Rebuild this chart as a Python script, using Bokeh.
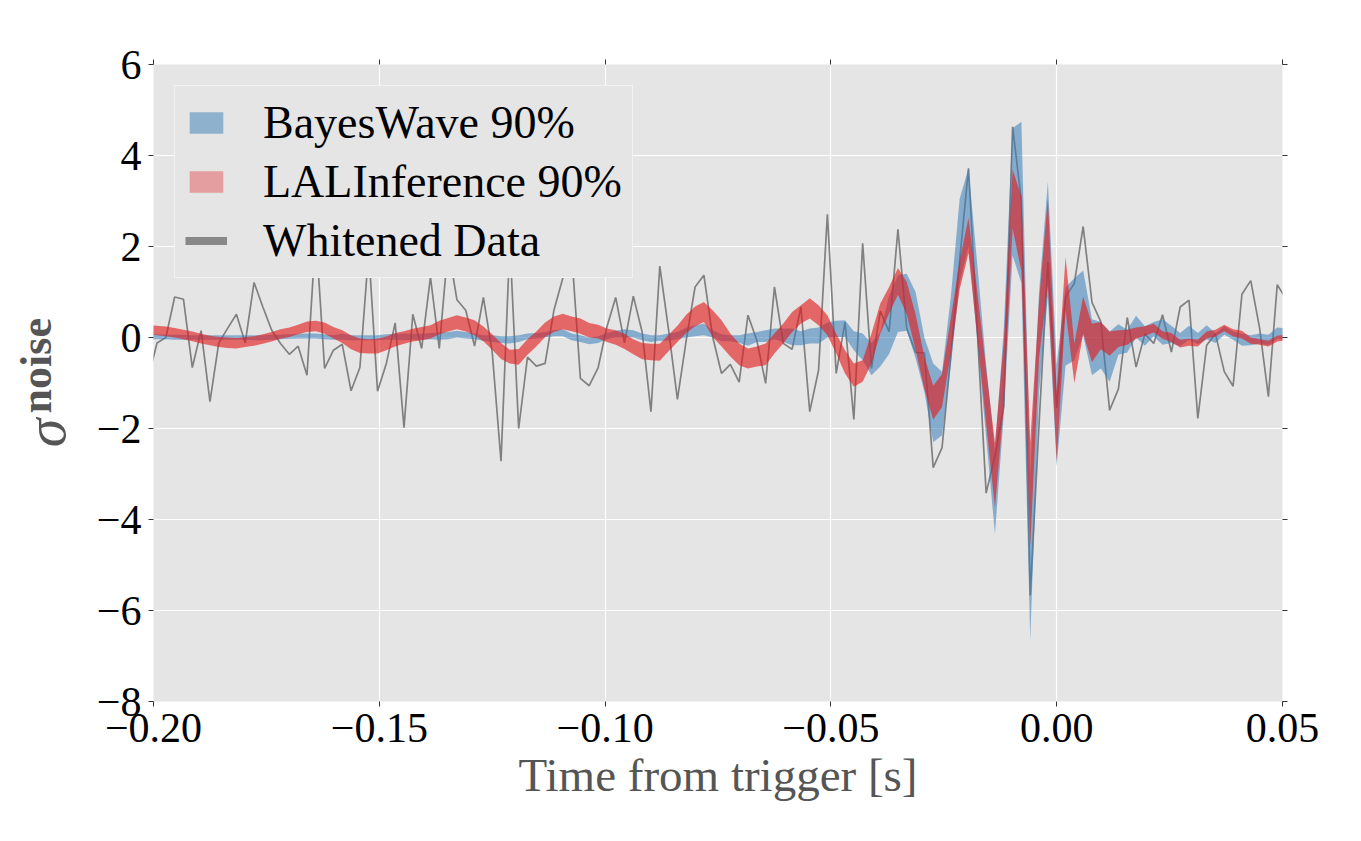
import numpy as np
from bokeh.plotting import figure
from bokeh.layouts import row
from bokeh.models import (ColumnDataSource, Legend, LegendItem, LinearAxis, FixedTicker,
                          CustomJSTickFormatter)
from bokeh.core.properties import value
from bokeh.embed import file_html
from bokeh.resources import INLINE

# ---------------- data ----------------
sample_rate = 512          # samples per second
first_sample = -103        # index of first sample relative to trigger

whitened = [
    -0.89, -0.12, 0.00, 0.89, 0.84, -0.66, 0.15, -1.41, -0.12, 0.20,
    0.51, -0.12, 1.21, 0.67, 0.16, -0.13, -0.37, -0.19, -0.83, 2.30,
    -0.68, -0.28, -0.15, -1.17, -0.66, 1.90, -1.18, -0.57, 0.32, -1.98,
    0.51, -0.24, 1.33, -0.24, 2.00, 0.83, 0.60, -0.19, 0.88, -0.32,
    -2.72, 2.10, -2.00, -0.43, -0.63, -0.57, 0.60, 1.30, 1.90, -0.90,
    -1.06, -0.67, 0.23, 0.88, -0.12, 0.91, 0.12, -1.63, 1.57, 0.16,
    -1.36, -0.06, 1.11, 1.37, 0.01, -0.79, -0.59, -0.98, 0.49, -0.06,
    -1.01, 1.11, -0.13, -0.26, 0.67, -1.63, -0.72, 2.71, -0.79, 0.34,
    -1.80, 2.07, -0.68, 0.58, 0.13, 2.38, 0.20, -0.33, -0.34, -2.86,
    -2.42, -0.40, 1.70, 3.72, 0.15, -3.42, -2.60, -1.52, 4.63, 3.00,
    -5.67, -1.90, 1.66, -1.55, 0.89, 1.19, 2.44, 0.77, 0.35, -1.60,
    -1.13, 0.44, -0.65, 0.08, -0.13, 0.50, -0.32, 0.67, 0.82, -1.78,
    -0.17, 0.08, -0.75, -1.07, 0.95, 1.25, 0.21, -1.30, 1.16, 0.85,
]

bw_lower = [
    -0.05, -0.04, -0.04, -0.05, -0.05, -0.05, -0.05, -0.05, -0.05, -0.05,
    -0.05, -0.05, -0.06, -0.06, -0.05, -0.04, -0.03, -0.02, -0.02, -0.02,
    -0.04, -0.05, -0.05, -0.06, -0.06, -0.06, -0.06, -0.05, -0.05, -0.06,
    -0.05, -0.05, -0.04, -0.05, -0.04, 0.00, -0.02, -0.04, -0.07, -0.10,
    -0.12, -0.13, -0.10, -0.04, -0.02, 0.00, 0.03, 0.03, -0.06, -0.10,
    -0.15, -0.12, -0.04, 0.00, 0.00, 0.00, -0.06, -0.10, -0.07, -0.07,
    -0.04, 0.00, 0.03, 0.05, 0.00, -0.08, -0.08, -0.12, -0.18, -0.10,
    -0.10, -0.04, -0.10, -0.17, -0.17, -0.13, -0.13, 0.00, 0.01, 0.01,
    -0.28, -0.50, -0.83, -0.64, -0.36, 0.12, 0.15, -0.45, -1.20, -2.30,
    -2.15, -0.60, 1.20, 2.00, -0.10, -2.20, -4.32, -1.70, 1.80, 1.20,
    -6.65, -1.20, 0.90, -2.83, -0.62, -0.50, 0.05, -0.83, -0.68, -0.97,
    -0.38, -0.33, 0.00, -0.18, 0.03, -0.16, -0.12, -0.19, -0.05, -0.15,
    -0.04, -0.12, 0.06, -0.05, -0.18, -0.17, -0.13, -0.17, -0.03, -0.05,
]

bw_upper = [
    0.07, 0.07, 0.06, 0.06, 0.06, 0.05, 0.05, 0.05, 0.05, 0.05,
    0.05, 0.05, 0.05, 0.05, 0.06, 0.06, 0.07, 0.08, 0.09, 0.09,
    0.07, 0.05, 0.08, 0.05, 0.05, 0.05, 0.05, 0.07, 0.08, 0.08,
    0.08, 0.08, 0.10, 0.11, 0.12, 0.15, 0.12, 0.09, 0.05, 0.05,
    0.03, 0.03, 0.05, 0.09, 0.10, 0.12, 0.16, 0.18, 0.09, 0.05,
    0.00, 0.03, 0.10, 0.15, 0.18, 0.16, 0.09, 0.05, 0.05, 0.09,
    0.12, 0.22, 0.27, 0.31, 0.16, 0.07, 0.05, 0.05, 0.09, 0.12,
    0.16, 0.20, 0.20, 0.20, 0.14, 0.20, 0.22, 0.33, 0.37, 0.38,
    0.14, 0.09, -0.12, 0.12, 0.93, 1.37, 1.40, 1.00, 0.00, -0.57,
    -0.75, 0.90, 3.05, 3.72, 1.60, -0.60, -2.50, 0.20, 4.60, 4.74,
    -3.00, 1.00, 3.43, -0.60, 1.10, 1.30, 1.47, 0.40, 0.34, 0.13,
    0.29, 0.17, 0.48, 0.25, 0.34, 0.40, 0.26, 0.10, 0.26, 0.10,
    0.27, 0.10, 0.25, 0.14, 0.08, 0.05, 0.09, 0.06, 0.22, 0.20,
]

lal_lower = [
    0.07, 0.05, 0.03, 0.00, -0.04, -0.08, -0.13, -0.17, -0.21, -0.23,
    -0.24, -0.21, -0.18, -0.14, -0.09, -0.03, 0.01, 0.07, 0.12, 0.14,
    0.08, -0.02, -0.12, -0.26, -0.34, -0.35, -0.35, -0.28, -0.20, -0.14,
    -0.09, -0.06, -0.02, 0.07, 0.13, 0.18, 0.13, 0.05, -0.08, -0.27,
    -0.47, -0.57, -0.60, -0.38, -0.20, 0.01, 0.12, 0.18, 0.14, 0.08,
    0.00, -0.02, -0.10, -0.16, -0.25, -0.37, -0.48, -0.50, -0.51, -0.30,
    -0.10, 0.10, 0.25, 0.34, 0.01, -0.20, -0.42, -0.61, -0.68, -0.64,
    -0.61, -0.35, -0.13, 0.12, 0.31, 0.42, 0.27, 0.05, -0.35, -0.79,
    -1.08, -0.97, -0.57, 0.09, 0.53, 0.94, 0.51, -0.27, -1.14, -1.81,
    -1.53, -0.35, 1.06, 1.85, 0.00, -1.90, -3.73, -1.50, 2.40, 1.45,
    -4.60, -0.45, 1.14, -2.72, 0.60, -1.00, 0.08, -0.54, -0.26, -0.40,
    -0.21, -0.16, -0.03, 0.04, 0.11, -0.03, -0.10, -0.22, -0.18, -0.20,
    -0.02, 0.02, 0.14, 0.02, -0.02, -0.14, -0.16, -0.20, -0.09, -0.06,
]

lal_upper = [
    0.27, 0.26, 0.24, 0.21, 0.17, 0.13, 0.08, 0.04, 0.01, 0.00,
    -0.01, 0.01, 0.03, 0.07, 0.12, 0.18, 0.22, 0.28, 0.35, 0.37,
    0.33, 0.23, 0.16, 0.05, -0.02, -0.04, -0.03, 0.02, 0.10, 0.14,
    0.19, 0.23, 0.27, 0.37, 0.43, 0.49, 0.44, 0.38, 0.24, 0.07,
    -0.12, -0.27, -0.25, -0.04, 0.13, 0.33, 0.46, 0.52, 0.46, 0.42,
    0.32, 0.28, 0.20, 0.16, 0.08, -0.04, -0.12, -0.14, -0.14, 0.06,
    0.26, 0.50, 0.68, 0.78, 0.60, 0.38, 0.09, -0.13, -0.24, -0.20,
    -0.13, 0.09, 0.31, 0.56, 0.71, 0.86, 0.71, 0.49, 0.09, -0.28,
    -0.57, -0.50, 0.09, 0.75, 1.11, 1.53, 1.22, 0.51, -0.43, -1.06,
    -0.80, 0.43, 1.69, 2.63, 1.00, -0.70, -2.32, -0.10, 3.69, 3.10,
    -2.30, 0.80, 3.06, -1.20, 1.77, -0.13, 0.90, 0.30, 0.34, 0.13,
    0.16, 0.17, 0.22, 0.25, 0.30, 0.14, 0.10, -0.05, -0.03, -0.05,
    0.13, 0.17, 0.28, 0.18, 0.15, 0.00, -0.04, -0.07, 0.04, 0.06,
]

x_ticks = [-0.2, -0.15, -0.1, -0.05, 0.0, 0.05]
y_ticks = [-8, -6, -4, -2, 0, 2, 4, 6]
labels = ["BayesWave 90%", "LALInference 90%", "Whitened Data"]
x_title = "Time from trigger [s]"
y_title_symbol = "σ"
y_title_sub = "noise"

# ---------------- styling ----------------
FONT = "Liberation Serif"
GREY_TXT = "#555555"
H = 824
LABEL_W = 80
TOP, BOTTOM = 64, H - 701

# ---------------- main figure ----------------
time = (first_sample + np.arange(len(whitened))) / sample_rate
src = ColumnDataSource(data=dict(t=time, w=whitened, bl=bw_lower, bu=bw_upper,
                                 ll=lal_lower, lu=lal_upper))

p = figure(width=1264, height=H, x_range=(-0.2, 0.05), y_range=(-8, 6),
           output_backend="svg", toolbar_location=None,
           min_border_left=153 - LABEL_W, min_border_right=62, min_border_top=TOP,
           min_border_bottom=BOTTOM)
p.background_fill_color = "#E5E5E5"
p.border_fill_color = "white"
p.outline_line_color = None

p.line("t", "w", source=src, line_color="#808080", line_width=1.7)
p.varea(x="t", y1="bl", y2="bu", source=src, fill_color="#377EB8", fill_alpha=0.55)
p.varea(x="t", y1="ll", y2="lu", source=src, fill_color="#E41A1C", fill_alpha=0.62)

# legend proxies (placed outside the visible range)
proxy = ColumnDataSource(data=dict(t=[1.0, 1.1], a=[0.0, 0.0], b=[1.0, 1.0]))
lg_bw = p.varea(x="t", y1="a", y2="b", source=proxy, fill_color="#377EB8", fill_alpha=0.5)
lg_lal = p.varea(x="t", y1="a", y2="b", source=proxy, fill_color="#E41A1C", fill_alpha=0.35)
lg_w = p.line(x="t", y="a", source=proxy, line_color="#888888", line_width=8)

for ax in (p.xaxis[0], p.yaxis[0]):
    ax.axis_line_color = None
    ax.major_tick_out = 5
    ax.major_tick_in = 0
    ax.major_tick_line_color = "#333333"
    ax.minor_tick_line_color = None
    ax.major_label_text_font = FONT
    ax.major_label_text_font_size = "42px"
    ax.major_label_text_color = "black"
    ax.major_label_standoff = 7

p.xaxis.ticker = FixedTicker(ticks=x_ticks)
p.yaxis.ticker = FixedTicker(ticks=y_ticks)
p.xaxis.formatter = CustomJSTickFormatter(code="return tick.toFixed(2).replace('-', '\u2212');")
p.yaxis.formatter = CustomJSTickFormatter(code="return tick.toFixed(0).replace('-', '\u2212');")
p.xaxis.axis_label = x_title
p.xaxis.axis_label_text_font = FONT
p.xaxis.axis_label_text_font_size = "47px"
p.xaxis.axis_label_text_font_style = "normal"
p.xaxis.axis_label_text_color = GREY_TXT
p.xaxis.axis_label_standoff = 4

for side, tick in (("above", x_ticks), ("right", y_ticks)):
    ax = LinearAxis(ticker=FixedTicker(ticks=tick),
                    formatter=CustomJSTickFormatter(code="return '';"),
                    axis_line_color=None, major_tick_out=5, major_tick_in=0,
                    major_tick_line_color="#333333", minor_tick_line_color=None,
                    major_label_standoff=0)
    p.add_layout(ax, side)

p.xgrid.ticker = FixedTicker(ticks=x_ticks)
p.ygrid.ticker = FixedTicker(ticks=y_ticks)
p.grid.grid_line_color = "white"
p.grid.grid_line_width = 1.2

legend = Legend(items=[LegendItem(label=labels[0], renderers=[lg_bw]),
                       LegendItem(label=labels[1], renderers=[lg_lal]),
                       LegendItem(label=labels[2], renderers=[lg_w])],
                location="top_left")
legend.background_fill_color = "#E5E5E5"
legend.background_fill_alpha = 1.0
legend.border_line_color = "white"
legend.border_line_width = 1.5
legend.label_text_font = FONT
legend.label_text_font_size = "46px"
legend.label_text_color = "black"
legend.glyph_width = 42
legend.glyph_height = 27
legend.label_standoff = 36
legend.spacing = 6
legend.padding = 10
legend.margin = 21
p.add_layout(legend)

# ---------------- y-axis title panel (rotated sigma_noise) ----------------
# same vertical frame as the main plot, so y positions are in sigma units
lab = figure(width=LABEL_W, height=H, x_range=(0, LABEL_W), y_range=(-8, 6),
             output_backend="svg", toolbar_location=None,
             x_axis_type=None, y_axis_type=None,
             min_border_left=0, min_border_right=0,
             min_border_top=TOP, min_border_bottom=BOTTOM)
lab.outline_line_color = None
lab.grid.visible = False
lab.background_fill_color = "white"
lab.text(x=[45], y=[-2.1], text=[y_title_symbol], angle=np.pi / 2,
         text_font=value(FONT), text_font_style="italic", text_font_size="58px",
         text_color=GREY_TXT, text_align="center", text_baseline="middle")
lab.text(x=[36], y=[-0.62], text=[y_title_sub], angle=np.pi / 2,
         text_font=value(FONT), text_font_style="bold", text_font_size="44px",
         text_color=GREY_TXT, text_align="center", text_baseline="middle")

layout = row(lab, p, spacing=0)
open("out.html", "w").write(file_html(layout, INLINE))
